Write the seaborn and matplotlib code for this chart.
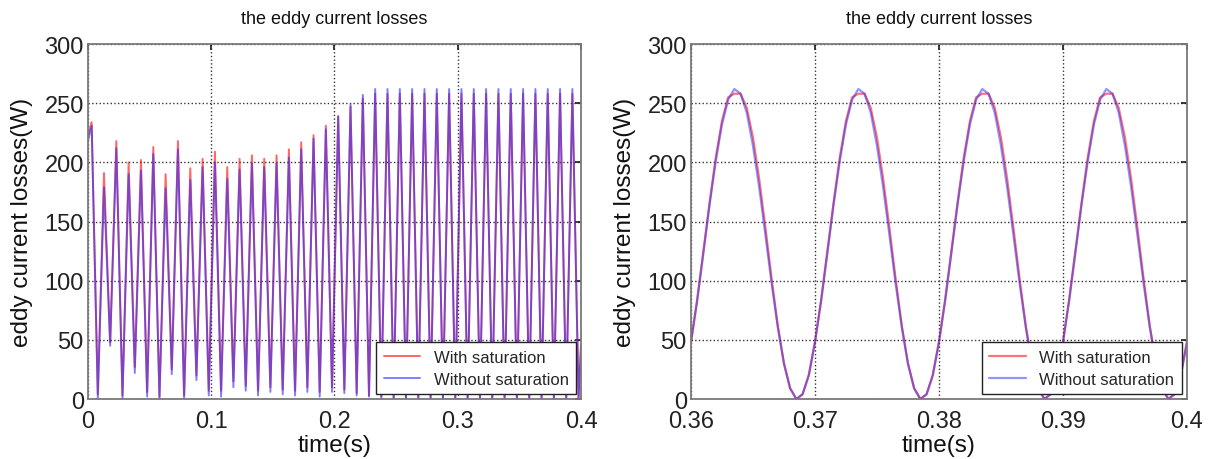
import numpy as np
import pandas as pd
import matplotlib
matplotlib.use("Agg")
import matplotlib.pyplot as plt
import seaborn as sns

# ---------------- data ----------------
title_text = "the eddy current losses"
xlabel_text = "time(s)"
ylabel_text = "eddy current losses(W)"
series_names = ["With saturation", "Without saturation"]

# left panel: one peak and one trough per 100 Hz cycle, 0 .. 0.4 s
left_start = [222, 218]          # value at t = 0 (with, without)
left_end = [45, 45]              # value at t = 0.4
sat_peaks = [234, 191, 218, 200, 202, 213, 190, 218, 195, 203,
             209, 196, 203, 206, 203, 206, 211, 217, 223, 231,
             239, 247, 254, 258, 258, 258, 258, 258, 258, 258,
             258, 258, 258, 258, 258, 258, 258, 258, 258, 258]
nosat_peaks = [231, 179, 212, 190, 193, 207, 178, 211, 185, 196,
               200, 186, 194, 199, 196, 199, 204, 211, 220, 228,
               239, 249, 257, 262, 262, 262, 262, 262, 262, 262,
               262, 262, 262, 262, 262, 262, 262, 262, 262, 262]
sat_troughs = [4, 48, 3, 27, 6, 2, 25, 3, 20, 7,
               7, 15, 11, 7, 10, 8, 7, 10, 6, 10,
               8, 5, 3, 2, 1, 1, 1, 1, 1, 1,
               1, 1, 1, 1, 1, 1, 1, 1, 1, 1]
nosat_troughs = [0, 45, 0, 22, 2, 0, 21, 0, 16, 3,
                 2, 10, 7, 3, 6, 4, 3, 6, 2, 6,
                 5, 3, 2, 1, 0, 0, 0, 0, 0, 0,
                 0, 0, 0, 0, 0, 0, 0, 0, 0, 0]

# right panel: 0.36 .. 0.40 s sampled every 0.5 ms
sat_zoom = [48, 84, 125, 166, 204, 235, 255, 258, 258, 246, 221, 186, 145, 102, 62, 30, 9, 0, 4, 20,
            48, 84, 125, 166, 204, 235, 255, 258, 258, 246, 221, 186, 145, 102, 62, 30, 9, 0, 4, 20,
            48, 84, 125, 166, 204, 235, 255, 258, 258, 246, 221, 186, 145, 102, 62, 30, 9, 0, 4, 20,
            48, 84, 125, 166, 204, 235, 255, 258, 258, 246, 221, 186, 145, 102, 62, 30, 9, 0, 4, 20,
            48]
nosat_zoom = [48, 83, 123, 164, 201, 232, 253, 262, 258, 242, 214, 179, 139, 98, 61, 30, 9, 0, 4, 20,
              48, 83, 123, 164, 201, 232, 253, 262, 258, 242, 214, 179, 139, 98, 61, 30, 9, 0, 4, 20,
              48, 83, 123, 164, 201, 232, 253, 262, 258, 242, 214, 179, 139, 98, 61, 30, 9, 0, 4, 20,
              48, 83, 123, 164, 201, 232, 253, 262, 258, 242, 214, 179, 139, 98, 61, 30, 9, 0, 4, 20,
              48]

left_xticks = [0, 0.1, 0.2, 0.3, 0.4]
left_xticklabels = ["0", "0.1", "0.2", "0.3", "0.4"]
right_xticks = [0.36, 0.37, 0.38, 0.39, 0.40]
right_xticklabels = ["0.36", "0.37", "0.38", "0.39", "0.4"]
yticks = [0, 50, 100, 150, 200, 250, 300]

# ---------------- build tables ----------------
left_time = np.concatenate([[0.0], np.arange(0.003, 0.3985, 0.005), [0.4]])
sat_left = [left_start[0]] + [v for p, t in zip(sat_peaks, sat_troughs) for v in (p, t)] + [left_end[0]]
nosat_left = [left_start[1]] + [v for p, t in zip(nosat_peaks, nosat_troughs) for v in (p, t)] + [left_end[1]]
right_time = np.linspace(0.36, 0.40, len(sat_zoom))

left_df = pd.DataFrame({"t": left_time, "sat": sat_left, "nosat": nosat_left})
right_df = pd.DataFrame({"t": right_time, "sat": sat_zoom, "nosat": nosat_zoom})

# ---------------- plotting ----------------
sns.set_theme(style="white")
plt.rcParams["font.family"] = ["Liberation Sans", "DejaVu Sans"]

fig = plt.figure(figsize=(12.15, 4.6), dpi=100)
ax1 = fig.add_axes([0.0724, 0.1304, 0.4058, 0.7717])
ax2 = fig.add_axes([0.5687, 0.1304, 0.4082, 0.7717])

panels = [
    (ax1, left_df, left_xticks, left_xticklabels, (0, 0.4), 1.4, 0.6, 0.6),
    (ax2, right_df, right_xticks, right_xticklabels, (0.36, 0.40), 1.6, 0.55, 0.5),
]

for ax, df, xt, xtl, xlim, lw, a_red, a_blue in panels:
    sns.lineplot(data=df, x="t", y="sat", ax=ax, color="#ff0000", alpha=a_red,
                 linewidth=lw, label=series_names[0])
    sns.lineplot(data=df, x="t", y="nosat", ax=ax, color="#2a2aff", alpha=a_blue,
                 linewidth=lw, label=series_names[1])
    ax.set_xlim(*xlim)
    ax.set_ylim(0, 300)
    ax.set_xticks(xt)
    ax.set_xticklabels(xtl)
    ax.set_yticks(yticks)
    ax.tick_params(axis="both", labelsize=17, direction="in", length=4,
                   top=True, right=True, colors="#222222")
    ax.tick_params(axis="x", pad=8)
    ax.tick_params(axis="y", pad=3)
    ax.grid(True, linestyle=":", color="#333333", linewidth=1.0)
    for s in ax.spines.values():
        s.set_color("#7a7a7a")
        s.set_linewidth(1.3)
    ax.set_xlabel(xlabel_text, fontsize=17.5, color="#111111", labelpad=1)
    ax.set_ylabel(ylabel_text, fontsize=17.5, color="#111111", labelpad=8)
    ax.set_title(title_text, fontsize=13, color="#111111", pad=15)
    leg = ax.legend(loc="lower right", fontsize=12, frameon=True, fancybox=False,
                    edgecolor="#222222", framealpha=1, borderaxespad=0.3,
                    handlelength=2.2, borderpad=0.45, labelspacing=0.4)
    leg.get_frame().set_linewidth(1.0)

fig.savefig("out.png", dpi=100)
